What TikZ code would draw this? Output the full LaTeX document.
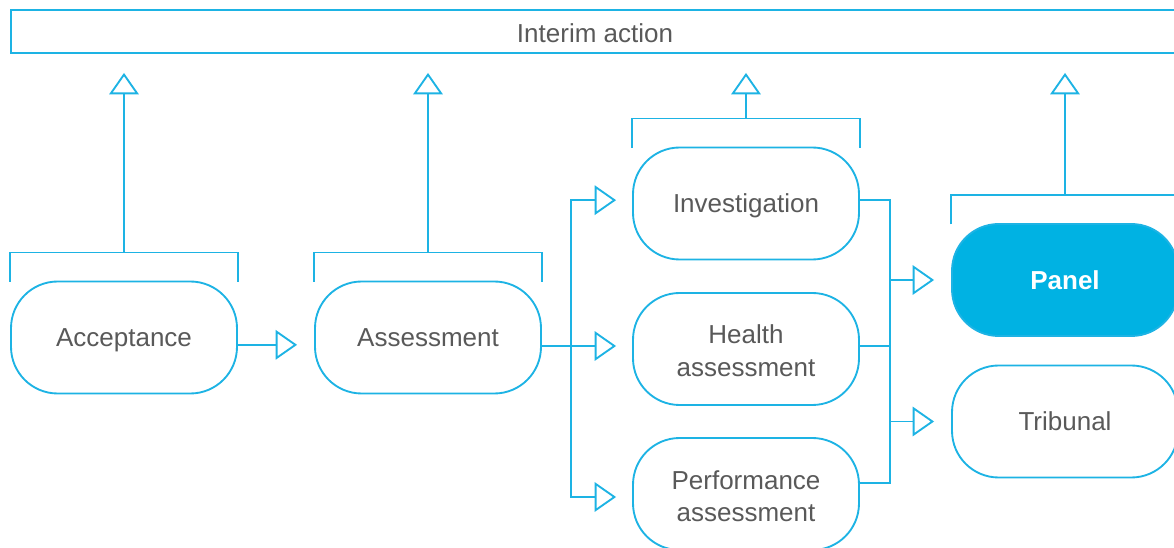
\documentclass[tikz,border=0pt]{standalone}
\usepackage{fontspec}
\setmainfont{Liberation Sans}
\usetikzlibrary{arrows.meta}
\definecolor{linec}{HTML}{1DB3E4}
\definecolor{fillc}{HTML}{00B2E3}
\definecolor{textc}{HTML}{595959}
\begin{document}
\begin{tikzpicture}[x=0.75pt,y=-0.75pt,
    conn/.style={draw=linec,line width=1.4pt},
    flow/.style={conn,-{Triangle[open,length=16pt,width=22pt,fill=white]}},
    stage/.style={conn,rounded corners=35pt,minimum width=169.5pt,minimum height=84pt,
        inner sep=0pt,align=center,text=textc,text height=14.2pt,text depth=0pt,
        font=\fontsize{19.5pt}{24.5pt}\selectfont},
    twoline/.style={stage,text height=41.5pt},
    chosen/.style={stage,fill=fillc,text=white,font=\fontsize{19.5pt}{24.5pt}\selectfont\bfseries}]
    \useasboundingbox (0,0) rectangle (1174,548);
    % top bar
    \node[conn,minimum width=876pt,minimum height=32.25pt,text=textc,text height=17pt,text depth=0pt,
        font=\fontsize{19.5pt}{24pt}\selectfont] (interim) at (595,31.5) {Interim action};
    % stages
    \node[stage] (acc) at (124,337.5) {Acceptance};
    \node[stage] (ass) at (428,337.5) {Assessment};
    \node[stage] (inv) at (746,203.5) {Investigation};
    \node[twoline] (hlth) at (746,349) {Health\\assessment};
    \node[twoline] (perf) at (746,494) {Performance\\assessment};
    \node[chosen] (panel) at (1065,280) {Panel};
    \node[stage] (trib) at (1065,421.5) {Tribunal};
    \coordinate (splitL) at (571,346);
    \coordinate (splitR) at (890,346);
    % brackets and arrows up to the bar
    \foreach \n in {acc,ass,inv,panel} {
        \draw[conn] ([yshift=-1pt]\n.north west) |- ([yshift=21pt]\n.north) -| ([yshift=-1pt]\n.north east);
        \draw[flow] ([yshift=21pt]\n.north) -- ([yshift=-14.25pt]\n.north |- interim.south);
    }
    % flow between stages
    \draw[flow] ([yshift=-5.5pt]acc.east) -- ([xshift=-12.75pt,yshift=-5.5pt]ass.west);
    \draw[conn] (ass.east |- splitL) -- (splitL);
    \draw[flow] (splitL) |- ([shift={(-12pt,2.5pt)}]inv.west);
    \draw[flow] (splitL) -- ([xshift=-12pt]hlth.west |- splitL);
    \draw[flow] (splitL) |- ([shift={(-12pt,-2.25pt)}]perf.west);
    \draw[conn] ([yshift=2.5pt]inv.east) -| (splitR);
    \draw[conn] (hlth.east |- splitR) -- (splitR);
    \draw[conn] ([yshift=8pt]perf.east) -| (splitR);
    \draw[flow] (splitR |- panel.west) -- ([xshift=-12.75pt]panel.west);
    \draw[flow] (splitR |- trib.west) -- ([xshift=-12.75pt]trib.west);
\end{tikzpicture}
\end{document}
